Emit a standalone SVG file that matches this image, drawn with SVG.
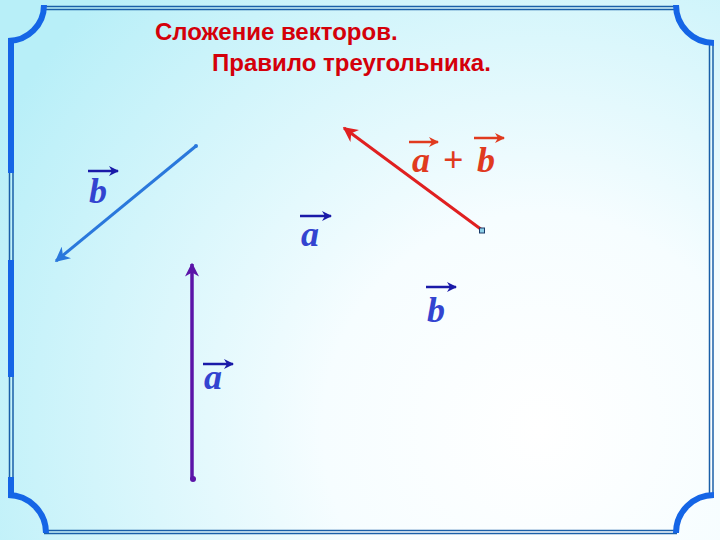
<svg xmlns="http://www.w3.org/2000/svg" width="720" height="540" viewBox="0 0 720 540">
<defs>
<radialGradient id="bg" cx="540" cy="430" r="620" gradientUnits="userSpaceOnUse">
<stop offset="0" stop-color="#ffffff"/>
<stop offset="0.35" stop-color="#f6fdff"/>
<stop offset="1" stop-color="#b8eff8"/>
</radialGradient>
<marker id="mBlue" viewBox="0 0 10 10" refX="9" refY="5" markerWidth="5" markerHeight="5" orient="auto" markerUnits="strokeWidth">
<path d="M0,0 L10,5 L0,10 L3,5 Z" fill="#2a78dc"/>
</marker>
<marker id="mPurple" viewBox="0 0 10 10" refX="9" refY="5" markerWidth="4" markerHeight="4" orient="auto" markerUnits="strokeWidth">
<path d="M0,0 L10,5 L0,10 L3,5 Z" fill="#5b14a8"/>
</marker>
<marker id="mRed" viewBox="0 0 10 10" refX="9" refY="5" markerWidth="5" markerHeight="5" orient="auto" markerUnits="strokeWidth">
<path d="M0,0 L10,5 L0,10 L3,5 Z" fill="#e02020"/>
</marker>
<marker id="mLab" viewBox="0 0 10 10" refX="9" refY="5" markerWidth="4" markerHeight="4" orient="auto" markerUnits="strokeWidth">
<path d="M0,0 L10,5 L0,10 L3,5 Z" fill="#1a1aa8"/>
</marker>
<marker id="mLabR" viewBox="0 0 10 10" refX="9" refY="5" markerWidth="4" markerHeight="4" orient="auto" markerUnits="strokeWidth">
<path d="M0,0 L10,5 L0,10 L3,5 Z" fill="#e03a1e"/>
</marker>
</defs>
<style>
.thin{stroke:#1a5fa8;stroke-width:1.5;fill:none}
.thick{stroke:#1565e6;stroke-width:6;fill:none}
.title{font-family:"Liberation Sans",Arial,sans-serif;font-weight:bold;font-size:24px;fill:#d4000a}
.lab{font-family:"Liberation Serif","Times New Roman",serif;font-style:italic;font-weight:bold;font-size:36px;fill:#3344d0}
.labR{font-family:"Liberation Serif","Times New Roman",serif;font-style:italic;font-weight:bold;font-size:36px;fill:#e03a1e}
.plus{font-family:"Liberation Serif","Times New Roman",serif;font-weight:bold;font-size:36px;fill:#e03a1e}
.lar{stroke:#1a1aa8;stroke-width:2.5;fill:none;marker-end:url(#mLab)}
.larR{stroke:#e03a1e;stroke-width:2.5;fill:none;marker-end:url(#mLabR)}
</style>
<rect x="0" y="0" width="720" height="540" fill="url(#bg)"/>
<g id="frame">
<line class="thin" x1="44" y1="6.5" x2="677" y2="6.5"/>
<line class="thin" x1="44" y1="9.5" x2="677" y2="9.5"/>
<line class="thin" x1="44" y1="530.5" x2="677" y2="530.5"/>
<line class="thin" x1="44" y1="533.5" x2="677" y2="533.5"/>
<line class="thin" x1="709.5" y1="42" x2="709.5" y2="496"/>
<line class="thin" x1="713" y1="42" x2="713" y2="496"/>
<line class="thin" x1="9.5" y1="42" x2="9.5" y2="496"/>
<line class="thin" x1="13" y1="42" x2="13" y2="496"/>
<line class="thick" x1="11" y1="40" x2="11" y2="173"/>
<line class="thick" x1="11" y1="260" x2="11" y2="377"/>
<line class="thick" x1="11" y1="477" x2="11" y2="496"/>
<path class="thick" d="M44,5 A36,36 0 0 1 8,41"/>
<path class="thick" d="M676,5 A38,38 0 0 0 714,43"/>
<path class="thick" d="M8,495 A38,38 0 0 1 46,533"/>
<path class="thick" d="M714,495 A38,38 0 0 0 676,533"/>
</g>
<g id="title">
<text class="title" x="155" y="40">Сложение векторов.</text>
<text class="title" x="212" y="71">Правило треугольника.</text>
</g>
<g id="connectors">
<line x1="196" y1="146" x2="56" y2="261" stroke="#2a78dc" stroke-width="3" marker-end="url(#mBlue)"/>
<circle cx="196" cy="146" r="2" fill="#2a78dc"/>
<line x1="192" y1="479" x2="192" y2="264" stroke="#5b14a8" stroke-width="3.5" marker-end="url(#mPurple)"/>
<circle cx="193" cy="479" r="3" fill="#5b14a8"/>
<line x1="482" y1="230" x2="344" y2="128" stroke="#e02020" stroke-width="3" marker-end="url(#mRed)"/>
<rect x="479.5" y="228" width="5" height="5" fill="#8fd0e8" stroke="#1a3a6a" stroke-width="1"/>
</g>
<g id="label-b1">
<line class="lar" x1="88" y1="171" x2="118" y2="171"/>
<text class="lab" x="89" y="203">b</text>
</g>
<g id="label-a1">
<line class="lar" x1="300" y1="216" x2="331" y2="216"/>
<text class="lab" x="301" y="246">a</text>
</g>
<g id="label-b2">
<line class="lar" x1="426" y1="287" x2="456" y2="287"/>
<text class="lab" x="427" y="322">b</text>
</g>
<g id="label-a2">
<line class="lar" x1="203" y1="364" x2="233" y2="364"/>
<text class="lab" x="204" y="389">a</text>
</g>
<g id="label-sum">
<line class="larR" x1="409" y1="142" x2="438" y2="142"/>
<line class="larR" x1="474" y1="138" x2="504" y2="138"/>
<text class="labR" x="412" y="172">a</text>
<text class="plus" x="443" y="172">+</text>
<text class="labR" x="477" y="172">b</text>
</g>
</svg>
